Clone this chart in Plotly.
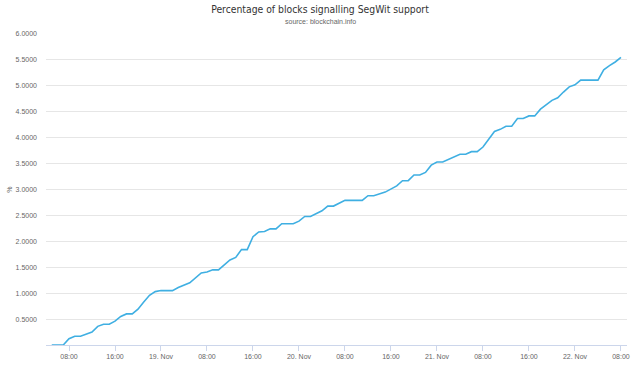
import plotly.graph_objects as go

times = [
    "2016-11-18 05:00", "2016-11-18 07:00", "2016-11-18 08:00", "2016-11-18 09:00", "2016-11-18 10:00",
    "2016-11-18 12:00", "2016-11-18 13:00", "2016-11-18 14:00", "2016-11-18 15:00", "2016-11-18 16:00",
    "2016-11-18 17:00", "2016-11-18 18:00", "2016-11-18 19:00", "2016-11-18 20:00", "2016-11-18 21:00",
    "2016-11-18 22:00", "2016-11-18 23:00",
    "2016-11-19 00:00", "2016-11-19 02:00", "2016-11-19 03:00", "2016-11-19 05:00", "2016-11-19 06:00",
    "2016-11-19 07:00", "2016-11-19 08:00", "2016-11-19 09:00", "2016-11-19 10:00", "2016-11-19 11:00",
    "2016-11-19 12:00", "2016-11-19 13:00", "2016-11-19 14:00", "2016-11-19 15:00", "2016-11-19 16:00",
    "2016-11-19 17:00", "2016-11-19 18:00", "2016-11-19 19:00", "2016-11-19 20:00", "2016-11-19 21:00",
    "2016-11-19 23:00",
    "2016-11-20 00:00", "2016-11-20 01:00", "2016-11-20 02:00", "2016-11-20 04:00", "2016-11-20 05:00",
    "2016-11-20 06:00", "2016-11-20 08:00", "2016-11-20 11:00", "2016-11-20 12:00", "2016-11-20 13:00",
    "2016-11-20 15:00", "2016-11-20 17:00", "2016-11-20 18:00", "2016-11-20 19:00", "2016-11-20 20:00",
    "2016-11-20 21:00", "2016-11-20 22:00", "2016-11-20 23:00",
    "2016-11-21 00:00", "2016-11-21 01:00", "2016-11-21 04:00", "2016-11-21 05:00", "2016-11-21 06:00",
    "2016-11-21 07:00", "2016-11-21 08:00", "2016-11-21 10:00", "2016-11-21 11:00", "2016-11-21 12:00",
    "2016-11-21 13:00", "2016-11-21 14:00", "2016-11-21 15:00", "2016-11-21 16:00", "2016-11-21 17:00",
    "2016-11-21 18:00", "2016-11-21 20:00", "2016-11-21 21:00", "2016-11-21 22:00", "2016-11-21 23:00",
    "2016-11-22 00:00", "2016-11-22 01:00", "2016-11-22 04:00", "2016-11-22 05:00", "2016-11-22 06:00",
    "2016-11-22 07:00", "2016-11-22 08:00",
]
pct = [
    0.0, 0.0, 0.12, 0.17, 0.17,
    0.25, 0.36, 0.40, 0.40, 0.46,
    0.55, 0.60, 0.60, 0.69, 0.83,
    0.96, 1.03,
    1.05, 1.05, 1.11, 1.20, 1.30,
    1.39, 1.41, 1.45, 1.45, 1.55,
    1.64, 1.69, 1.84, 1.84, 2.09,
    2.18, 2.19, 2.24, 2.24, 2.34,
    2.34,
    2.39, 2.48, 2.48, 2.59, 2.68,
    2.68, 2.79, 2.79, 2.88, 2.88,
    2.95, 3.07, 3.17, 3.17, 3.28,
    3.28, 3.33, 3.47,
    3.53, 3.53, 3.68, 3.68, 3.73,
    3.73, 3.82, 4.12, 4.16, 4.22,
    4.22, 4.37, 4.37, 4.42, 4.42,
    4.55, 4.72, 4.77, 4.88, 4.98,
    5.02, 5.11, 5.11, 5.31, 5.39,
    5.46, 5.55,
]

x_tick_vals = [
    "2016-11-18 08:00", "2016-11-18 16:00", "2016-11-19 00:00", "2016-11-19 08:00", "2016-11-19 16:00",
    "2016-11-20 00:00", "2016-11-20 08:00", "2016-11-20 16:00", "2016-11-21 00:00", "2016-11-21 08:00",
    "2016-11-21 16:00", "2016-11-22 00:00", "2016-11-22 08:00",
]
x_tick_text = ["08:00", "16:00", "19. Nov", "08:00", "16:00", "20. Nov", "08:00", "16:00",
               "21. Nov", "08:00", "16:00", "22. Nov", "08:00"]
y_tick_vals = [0.5, 1.0, 1.5, 2.0, 2.5, 3.0, 3.5, 4.0, 4.5, 5.0, 5.5, 6.0]
y_tick_text = ["0.5000", "1.0000", "1.5000", "2.0000", "2.5000", "3.0000", "3.5000",
               "4.0000", "4.5000", "5.0000", "5.5000", "6.0000"]

fig = go.Figure()
fig.add_trace(go.Scatter(x=times, y=pct, mode="lines",
                         line=dict(color="#3fafe2", width=1.6), hoverinfo="x+y"))

fig.update_layout(
    width=640, height=366,
    margin=dict(l=46, r=13, t=34, b=21, autoexpand=False),
    paper_bgcolor="white", plot_bgcolor="white",
    showlegend=False,
    font=dict(family="Liberation Sans, Arial, sans-serif", color="#666666", size=7),
    title=dict(text="Percentage of blocks signalling SegWit support",
               x=0.5, xanchor="center", xref="container",
               y=1 - 9 / 366, yanchor="middle", yref="container",
               font=dict(family="DejaVu Sans Condensed, Liberation Sans Narrow, Roboto, sans-serif",
                         size=10.3, color="#333333")),
    annotations=[dict(text="source: blockchain.info", xref="paper", yref="paper",
                      x=(320 - 46) / 581, y=(345 - 22) / 311, xanchor="center", yanchor="middle",
                      showarrow=False, font=dict(size=7, color="#666666"))],
    xaxis=dict(type="date", range=["2016-11-18 04:00", "2016-11-22 09:03"], automargin=False,
               tickmode="array", tickvals=x_tick_vals, ticktext=x_tick_text,
               showgrid=False, zeroline=False, showline=True, linecolor="#ccd6eb", linewidth=1,
               ticks="outside", ticklen=5, tickcolor="#ccd6eb", tickwidth=1,
               tickfont=dict(size=7, color="#666666")),
    yaxis=dict(range=[0, 6], tickmode="array", tickvals=y_tick_vals, ticktext=y_tick_text,
               automargin=False,
               showgrid=True, gridcolor="#e6e6e6", gridwidth=1, zeroline=False, showline=False,
               ticks="", ticklabelstandoff=8,
               tickfont=dict(size=7, color="#666666"),
               title=dict(text="%", font=dict(size=7, color="#666666"), standoff=2)),
)

fig.write_html("out.html", config={"displayModeBar": False},
               post_script="document.body.style.margin='0';document.body.style.padding='0';")
